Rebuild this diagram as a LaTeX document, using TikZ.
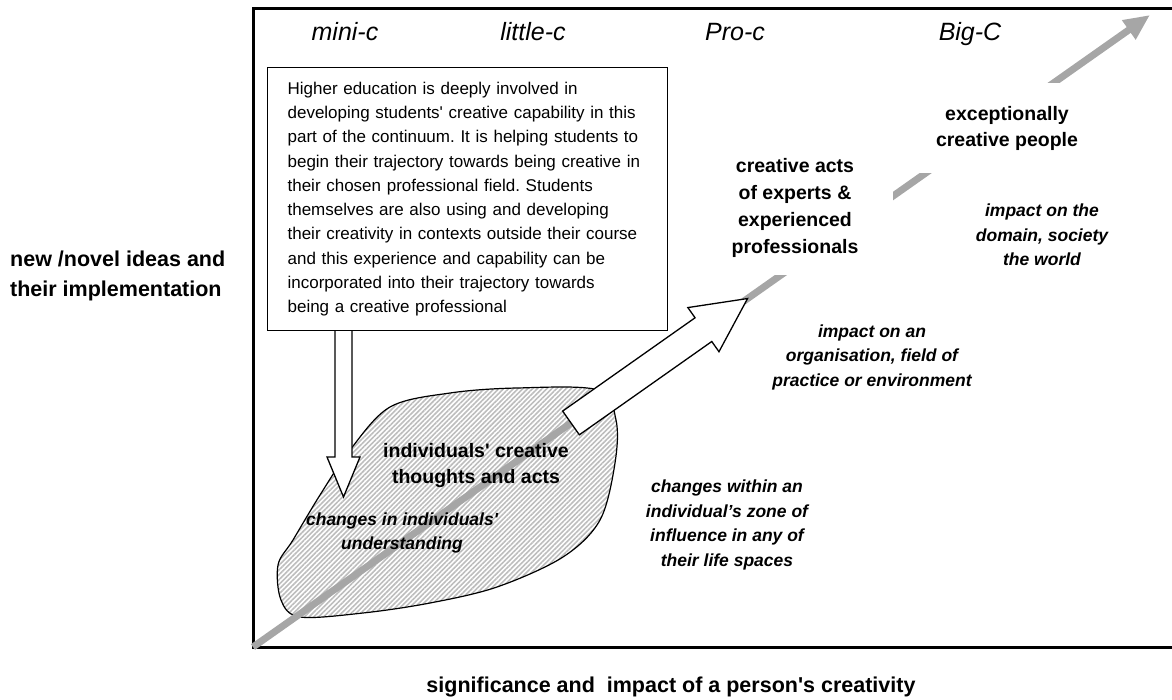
\documentclass[tikz,border=0pt]{standalone}
\usepackage{fontspec}
\setmainfont{Liberation Sans}
\usetikzlibrary{arrows.meta,patterns.meta}
\definecolor{trendgray}{HTML}{A6A6A6}
\definecolor{hatchgray}{HTML}{BDBDBD}
\newcommand{\straightq}{\textquotesingle}
\frenchspacing

\begin{document}
\begin{tikzpicture}[x=1pt,y=-1pt,
  level/.style={inner sep=0pt,font=\fontsize{25}{30}\selectfont\itshape},
  stage/.style={inner sep=0pt,align=center,font=\fontsize{19.5}{26}\selectfont\bfseries},
  impact/.style={inner sep=0pt,align=center,font=\fontsize{17.5}{24.5}\selectfont\bfseries\itshape},
  axislabel/.style={inner sep=0pt,align=left,font=\fontsize{21.5}{30}\selectfont\bfseries},
  whitearrow/.style={draw,line width=1.3pt,fill=white,line join=miter},
  trend/.style={line width=7pt,trendgray,-{Triangle[length=26pt,width=22pt]}},
  cover/.style={fill=white}]
  \useasboundingbox (0,0) rectangle (1172,700);
  \draw[line width=3pt] (1172,9) -- (253,9) -- (253,647) -- (1172,647);

  \draw[line width=1.2pt,pattern={Lines[angle=45,distance=3.4pt,line width=1.6pt]},pattern color=hatchgray]
    plot[smooth cycle,tension=0.55] coordinates {(293,540) (278,565) (281,600) (300,617) (363,613)
      (430,603) (497,587) (563,557) (600,520) (615,463) (616,420) (598,390) (517,388) (450,393)
      (390,407) (350,450) (320,495)};

  \coordinate (O) at (253,647);
  \coordinate (T) at (1150,15);
  \draw[trend] (O) -- (T);
  \path (O) -- (T) coordinate[pos=0.3545] (tail);
  \coordinate (vtop) at (343.5,330);

  \begin{scope}[shift={(tail)},rotate=35.17]
    \draw[whitearrow] (0,-14.5) -- (162,-14.5) -- (162,-27) -- (216,0) -- (162,27) -- (162,14.5) -- (0,14.5) -- cycle;
  \end{scope}
  \begin{scope}[shift={(vtop)}]
    \draw[whitearrow] (-8.5,0) -- (-8.5,127) -- (-16.5,127) -- (0,167) -- (16.5,127) -- (8.5,127) -- (8.5,0);
  \end{scope}

  \node[draw,line width=1.2pt,fill=white,anchor=north west,text width=360pt,inner xsep=20pt,
    minimum height=263pt,align=left,font=\fontsize{17}{24.3}\selectfont] (hebox) at (267,67)
    {Higher education is deeply involved in\\
     developing students\straightq{} creative capability in this\\
     part of the continuum. It is helping students to\\
     begin their trajectory towards being creative in\\
     their chosen professional field. Students\\
     themselves are also using and developing\\
     their creativity in contexts outside their course\\
     and this experience and capability can be\\
     incorporated into their trajectory towards\\
     being a creative professional};

  \node[level,anchor=base] (minic) at (345,41) {mini-c};
  \node[level,anchor=base] (littlec) at (533,41) {little-c};
  \node[level,anchor=base] (proc) at (735,41) {Pro-c};
  \node[level,anchor=base] (bigc) at (970,41) {Big-C};

  \node[stage] (indiv) at (476,465) {individuals\straightq{} creative\\thoughts and acts};
  \node[stage,cover,minimum width=196pt,minimum height=134pt,font=\fontsize{19.5}{27}\selectfont\bfseries]
    (experts) at (795,208) {creative acts\\of experts \&\\experienced\\professionals};
  \node[stage,cover,minimum width=190pt,minimum height=90pt] (except) at (1007,128)
    {exceptionally\\creative people};

  \node[impact] (understand) at (402,533) {changes in individuals\straightq\\understanding};
  \node[impact] (zone) at (727,525) {changes within an\\individual's zone of\\influence in any of\\their life spaces};
  \node[impact] (organise) at (872,357) {impact on an\\organisation, field of\\practice or environment};
  \node[impact] (domain) at (1042,235) {impact on the\\domain, society\\the world};

  \node[axislabel,anchor=west] (ylabel) at (10,276) {new /novel ideas and\\their implementation};
  \node[axislabel] (xlabel) at (671,687) {significance and\ \ impact of a person\straightq{}s creativity};
\end{tikzpicture}
\end{document}
